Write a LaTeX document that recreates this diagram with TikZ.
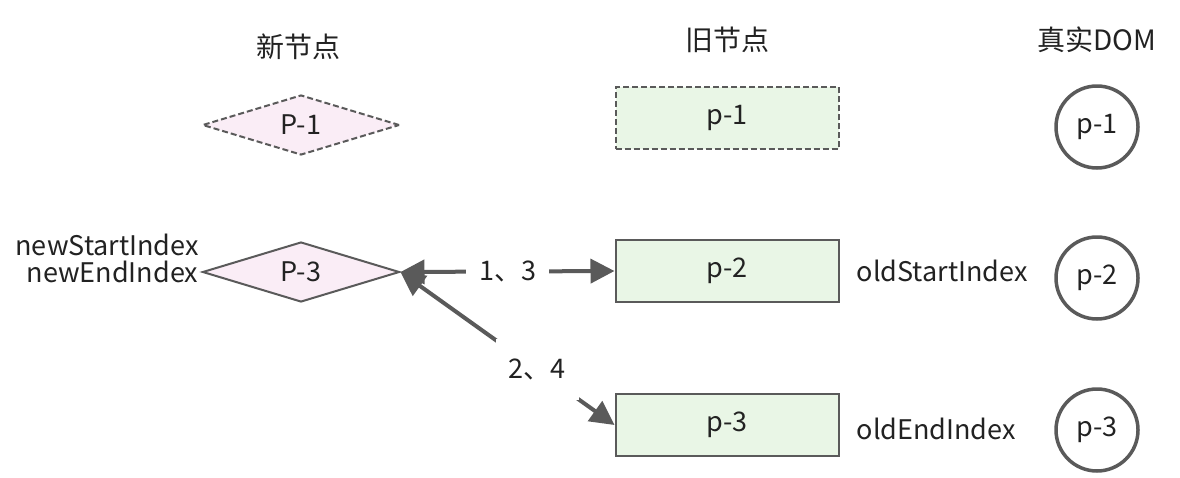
\documentclass[tikz,border=0pt]{standalone}
\usepackage{fontspec}
\setmainfont{Noto Sans CJK SC}
\usetikzlibrary{shapes.geometric,arrows.meta}

\definecolor{linegray}{HTML}{5A5A5A}
\definecolor{newfill}{HTML}{FAEDF6}
\definecolor{oldfill}{HTML}{E9F6E6}
\definecolor{textdark}{HTML}{222222}

\tikzstyle{txt} = [font=\fontsize{27}{32}\selectfont, text=textdark]
\tikzstyle{titletxt} = [font=\fontsize{28}{33}\selectfont, text=textdark]
\tikzstyle{ghost} = [dash pattern=on 6pt off 3pt]
\tikzstyle{newnode} = [diamond,draw=linegray,line width=2pt,fill=newfill,shape aspect=3.3,minimum width=197pt,minimum height=60pt,inner sep=0pt,txt]
\tikzstyle{oldnode} = [rectangle,draw=linegray,line width=2pt,fill=oldfill,minimum width=223pt,minimum height=62pt,inner sep=0pt,txt]
\tikzstyle{domnode} = [circle,draw=linegray,line width=3.5pt,minimum size=82pt,inner sep=0pt,txt]
\tikzstyle{arrowdecorate} = [<->,>={Triangle[length=24pt,width=24pt]},line width=4pt,draw=linegray]
\tikzstyle{steplabel} = [txt,fill=white,inner xsep=13pt]

\begin{document}
\begin{tikzpicture}[x=1pt,y=-1pt]
      \useasboundingbox (0,0) rectangle (1180,477);
      %% titles
      \node[titletxt] (newtitle) at (298,47) {新节点};
      \node[titletxt] (oldtitle) at (727,40) {旧节点};
      \node[titletxt] (domtitle) at (1097,40) {真实DOM};

      %% new nodes
      \node[newnode,ghost] (P1) at (301,125) {P-1};
      \node[newnode] (P3) at (301,272) {P-3};

      %% old nodes
      \foreach \nodename/\value/\y/\look in {
        p1/p-1/118/ghost,
        p2/p-2/271/solid,
        p3/p-3/425/solid}
      {
        \node[oldnode,\look] (\nodename) at (727,\y) {\value};
      }

      %% real dom
      \foreach \nodename/\value/\y in {
        d1/p-1/127, d2/p-2/278, d3/p-3/430}
      {
        \node[domnode] (\nodename) at (1097,\y) {\value};
      }

      %% indexes
      \node[txt,anchor=east,inner sep=1pt] (newstart) at (200,245) {newStartIndex};
      \node[txt,anchor=east,inner sep=1pt] (newend) at ([xshift=-2pt]P3.west) {newEndIndex};
      \node[txt,anchor=west,inner sep=1pt] (oldstart) at ([xshift=16pt]p2.east) {oldStartIndex};
      \node[txt,anchor=west,inner sep=1pt] (oldend) at ([xshift=16pt,yshift=-4pt]p3.east) {oldEndIndex};

      % compare arrows
      \draw[arrowdecorate] (P3.east) -- node[steplabel] {1、3} (p2.west);
      \draw[arrowdecorate] (P3.east) -- node[steplabel,pos=0.64,inner ysep=20pt] {2、4} (p3.west);
\end{tikzpicture}
\end{document}
